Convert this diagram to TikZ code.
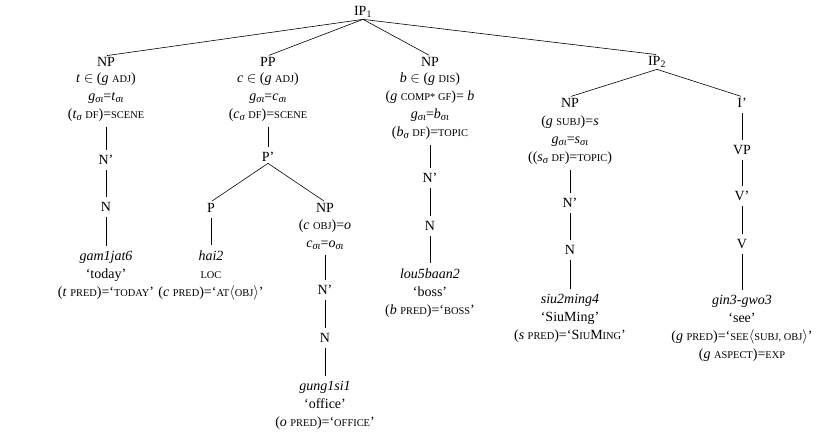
\documentclass[tikz,border=0pt]{standalone}
\usepackage{fontspec}
\setmainfont{Liberation Serif}
% faked small capitals and italic lower-case subscripts
\newcommand\fsc[1]{{\fontsize{10.4}{10.4}\selectfont #1}}
\newcommand\lo[1]{\raisebox{-0.35ex}{\fontsize{10.5}{10.5}\selectfont\itshape #1}}
\newcommand\vv[1]{\textit{#1}}

\begin{document}
\begin{tikzpicture}[x=1pt,y=-1pt,
  font=\fontsize{14}{18}\selectfont,
  cat/.style={inner sep=1.5pt},
  ann/.style={align=center, inner sep=1pt},
  bar/.style={line width=0.6pt, shorten <=4pt, shorten >=4pt},
  edge/.style={line width=0.6pt, shorten >=1pt}]
\useasboundingbox (0,0) rectangle (831,439);

% root
\node[cat] (ip1) at (363,12) {IP\textsubscript{1}};

% ---- first NP: gam1jat6
\node[cat] (npA) at (106,62) {NP};
\node[ann] (annA) at (106,97) {\vv{t} $\in$ (\vv{g} \fsc{ADJ})\\
  \vv{g}\lo{σι}=\vv{t}\lo{σι}\\
  (\vv{t}\lo{σ} \fsc{DF})=\fsc{SCENE}};
\node[cat] (nbA) at (106,160) {N'};
\node[cat] (nA) at (106,207) {N};
\node[ann] (lexA) at (106,275) {\vv{gam1jat6}\\ `today'\\
  (\vv{t} \fsc{PRED})=`\fsc{TODAY}'};

% ---- PP: hai2 gung1si1
\node[cat] (pp) at (268,62) {PP};
\node[ann] (annB) at (268,97) {\vv{c} $\in$ (\vv{g} \fsc{ADJ})\\
  \vv{g}\lo{σι}=\vv{c}\lo{σι}\\
  (\vv{c}\lo{σ} \fsc{DF})=\fsc{SCENE}};
\node[cat] (pbar) at (268,157) {P'};
\node[cat] (p) at (211,208) {P};
\node[ann] (lexP) at (211,275) {\vv{hai2}\\ \fsc{LOC}\\
  (\vv{c} \fsc{PRED})=`\fsc{AT}$\langle$\fsc{OBJ}$\rangle$'};
\node[cat] (npO) at (325,208) {NP};
\node[ann] (annO) at (325,235) {(\vv{c} \fsc{OBJ})=\vv{o}\\
  \vv{c}\lo{σι}=\vv{o}\lo{σι}};
\node[cat] (nbO) at (325,290) {N'};
\node[cat] (nO) at (325,338) {N};
\node[ann] (lexO) at (325,405) {\vv{gung1si1}\\ `office'\\
  (\vv{o} \fsc{PRED})=`\fsc{OFFICE}'};

% ---- topic NP: lou5baan2
\node[cat] (npC) at (430,62) {NP};
\node[ann] (annC) at (430,106) {\vv{b} $\in$ (\vv{g} \fsc{DIS})\\
  (\vv{g} \fsc{COMP* GF})= \vv{b}\\
  \vv{g}\lo{σι}=\vv{b}\lo{σι}\\
  (\vv{b}\lo{σ} \fsc{DF})=\fsc{TOPIC}};
\node[cat] (nbC) at (430,178) {N'};
\node[cat] (nC) at (430,226) {N};
\node[ann] (lexC) at (430,293) {\vv{lou5baan2}\\ `boss'\\
  (\vv{b} \fsc{PRED})=`\fsc{BOSS}'};

% ---- embedded IP
\node[cat] (ip2) at (657,62) {IP\textsubscript{2}};
\node[cat] (npD) at (570,103) {NP};
\node[ann] (annD) at (570,140) {(\vv{g} \fsc{SUBJ})=\vv{s}\\
  \vv{g}\lo{σι}=\vv{s}\lo{σι}\\
  ((\vv{s}\lo{σ} \fsc{DF})=\fsc{TOPIC})};
\node[cat] (nbD) at (570,203) {N'};
\node[cat] (nD) at (570,250) {N};
\node[ann] (lexD) at (570,318) {\vv{siu2ming4}\\ `SiuMing'\\
  (\vv{s} \fsc{PRED})=`S\fsc{IU}M\fsc{ING}'};

\node[cat] (ibar) at (742,103) {I'};
\node[cat] (vp) at (742,150) {VP};
\node[cat] (vbar) at (742,196) {V'};
\node[cat] (v) at (742,244) {V};
\node[ann] (lexE) at (742,328) {\vv{gin3-gwo3}\\ `see'\\
  (\vv{g} \fsc{PRED})=`\fsc{SEE}$\langle$\fsc{SUBJ, OBJ}$\rangle$'\\
  (\vv{g} \fsc{ASPECT})=\fsc{EXP}};

% branching edges
\draw[edge] (ip1.south) -- (npA.north);
\draw[edge] (ip1.south) -- (pp.north);
\draw[edge] (ip1.south) -- (npC.north);
\draw[edge] (ip1.south) -- (ip2.north);
\draw[edge] (pbar.south) -- (p.north);
\draw[edge] (pbar.south) -- (npO.north);
\draw[edge] (ip2.south) -- (npD.north);
\draw[edge] (ip2.south) -- (ibar.north);

% unary bars
\draw[bar] (annA.south) -- (nbA.north);
\draw[bar] (nbA.south) -- (nA.north);
\draw[bar] (nA.south) -- (lexA.north);
\draw[bar] (annB.south) -- (pbar.north);
\draw[bar] (p.south) -- (lexP.north);
\draw[bar] (annO.south) -- (nbO.north);
\draw[bar] (nbO.south) -- (nO.north);
\draw[bar] (nO.south) -- (lexO.north);
\draw[bar] (annC.south) -- (nbC.north);
\draw[bar] (nbC.south) -- (nC.north);
\draw[bar] (nC.south) -- (lexC.north);
\draw[bar] (annD.south) -- (nbD.north);
\draw[bar] (nbD.south) -- (nD.north);
\draw[bar] (nD.south) -- (lexD.north);
\draw[bar] (ibar.south) -- (vp.north);
\draw[bar] (vp.south) -- (vbar.north);
\draw[bar] (vbar.south) -- (v.north);
\draw[bar] (v.south) -- (lexE.north);
\end{tikzpicture}
\end{document}
